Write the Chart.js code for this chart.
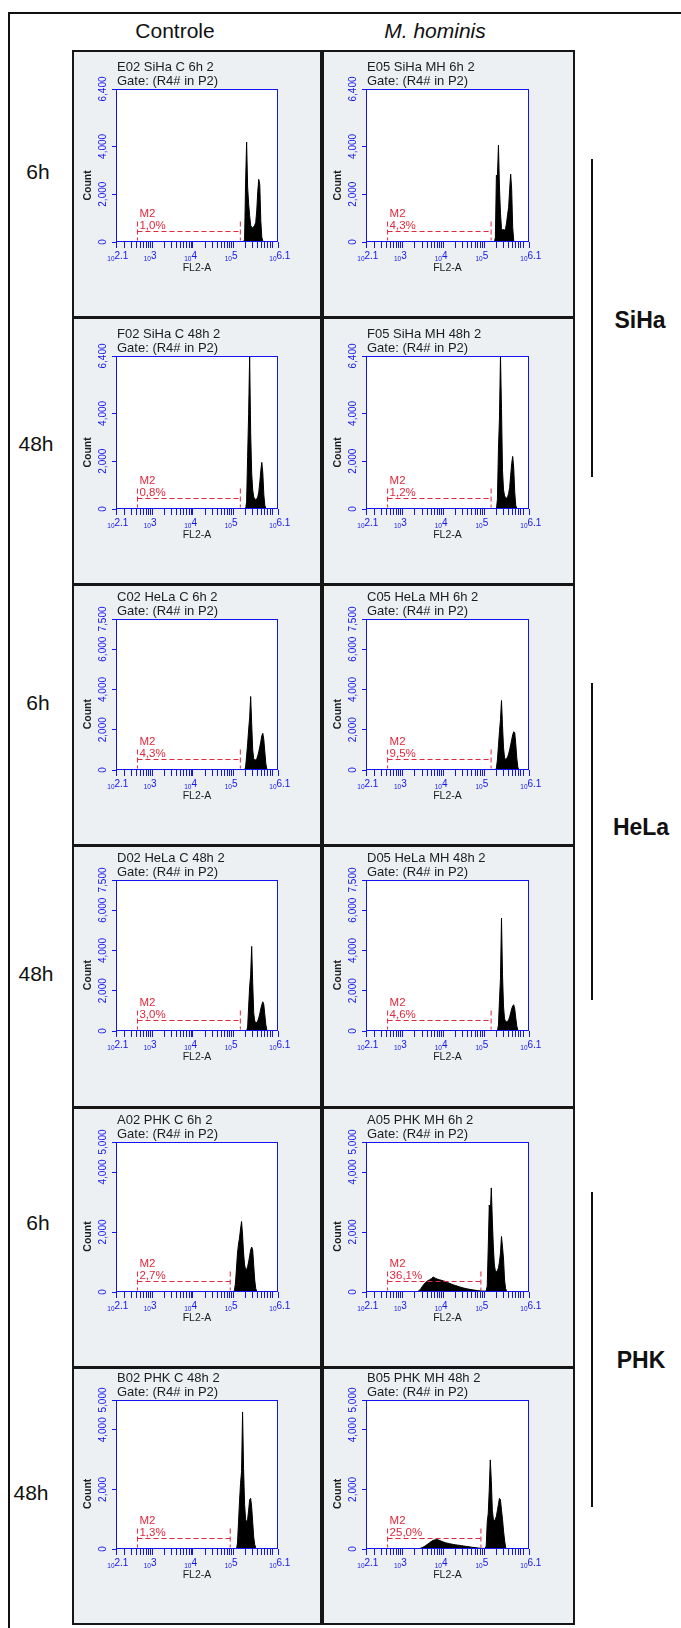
<!DOCTYPE html>
<html>
<head>
<meta charset="utf-8">
<script src="https://cdn.jsdelivr.net/npm/chart.js@4.4.0/dist/chart.umd.min.js"></script>
<style>
  body { margin: 0; background: #fff; }
  #page { position: relative; width: 681px; height: 1628px; overflow: hidden; font-family: "Liberation Sans", Arial, sans-serif; color: #111; }
  .edge { position: absolute; background: #111; }
  .panel { position: absolute; box-sizing: border-box; border: 2px solid #161616; background: #ecf0f3; }
  .cv { position: absolute; }
  .head { position: absolute; top: 30px; font-size: 21px; line-height: 1; transform: translate(-50%, -50%); white-space: nowrap; }
  .rowlab { position: absolute; font-size: 21px; line-height: 1; transform: translate(-50%, -50%); }
  .group { position: absolute; font-size: 23px; font-weight: bold; line-height: 1; transform: translate(-50%, -50%); }
  .bar { position: absolute; left: 591px; width: 2px; background: #111; }
</style>
</head>
<body>
<div id="page">
  <div class="edge" style="left:8px;top:12px;width:2px;height:1616px"></div>
  <div class="edge" style="left:8px;top:12px;width:673px;height:2px"></div>

  <div class="head" style="left:175px">Controle</div>
  <div class="head" style="left:435px;font-style:italic">M. hominis</div>

  <div class="rowlab" style="left:38px;top:171px">6h</div>
  <div class="rowlab" style="left:36px;top:443px">48h</div>
  <div class="rowlab" style="left:38px;top:702px">6h</div>
  <div class="rowlab" style="left:36px;top:973px">48h</div>
  <div class="rowlab" style="left:38px;top:1222px">6h</div>
  <div class="rowlab" style="left:31px;top:1492px">48h</div>

  <div class="bar" style="top:159px;height:318px"></div>
  <div class="bar" style="top:683px;height:317px"></div>
  <div class="bar" style="top:1192px;height:315px"></div>
  <div class="group" style="left:640px;top:320px">SiHa</div>
  <div class="group" style="left:641px;top:827px">HeLa</div>
  <div class="group" style="left:641px;top:1360px">PHK</div>
</div>

<script>
// FL2-A channel (log10 exponent) of each histogram bin
var binExp = [5.000,5.025,5.050,5.075,5.100,5.125,5.150,5.175,5.200,5.225,5.250,5.275,5.300,5.325,5.350,5.375,5.400,5.425,
              5.450,5.475,5.500,5.525,5.550,5.575,5.600,5.625,5.650,5.675,5.700,5.725,5.750,5.775,5.800,5.825,5.850];
var lowExp = [3.30,3.35,3.40,3.45,3.50,3.55,3.60,3.65,3.70,3.75,3.80,3.85,3.90,3.95,4.00,4.05,4.10,4.15,
              4.20,4.25,4.30,4.35,4.40,4.45,4.50,4.55,4.60,4.65,4.70,4.75,4.80,4.85,4.90,4.95,5.00];

// counts per bin
var e02 = [0,0,0,0,0,0,0,0,0,0,0,120,2500,4180,2300,1600,1100,700,620,600,640,700,820,1300,2100,2620,2400,900,200,40,0,0,0,0,0];
var e05 = [0,0,0,0,0,0,0,0,0,0,0,200,2800,2700,4050,2300,1200,560,500,520,490,560,800,1150,1450,2200,2840,2200,600,60,0,0,0,0,0];
var f02 = [0,0,0,0,0,0,0,0,0,0,0,0,0,300,2200,4000,6400,3200,1500,800,500,420,400,420,500,700,1100,1600,1950,1500,600,150,30,0,0];
var f05 = [0,0,0,0,0,0,0,0,0,0,0,0,0,400,2500,3800,6400,4200,1600,800,550,480,460,500,650,900,1400,1900,2200,1700,700,150,30,0,0];
var c02 = [0,0,0,0,0,0,0,0,0,0,0,0,150,700,1300,2000,2600,3650,2300,1000,560,500,500,560,700,900,1150,1400,1700,1820,1500,900,300,50,0];
var c05 = [0,0,0,0,0,0,0,0,0,0,0,0,100,500,1200,1900,2500,3450,2200,1100,600,540,560,650,800,1000,1250,1500,1750,1900,1850,1300,600,150,0];
var d02 = [0,0,0,0,0,0,0,0,0,0,0,0,0,0,200,1200,2200,2800,4200,2400,900,500,420,420,500,650,850,1100,1300,1450,1300,800,300,60,0];
var d05 = [0,0,0,0,0,0,0,0,0,0,0,0,0,0,300,1500,2600,5600,2800,1200,600,480,460,480,550,700,900,1100,1250,1300,1100,650,250,50,0];
var a02 = [0,60,300,800,1300,1600,1800,2100,2350,1900,1300,900,750,750,850,1000,1200,1400,1500,1400,900,400,120,20,0,0,0,0,0,0,0,0,0,0,0];
var a05 = [30,30,40,200,1500,2900,2600,3470,2400,1500,900,700,680,720,800,1000,1300,1850,1500,1100,400,120,20,0,0,0,0,0,0,0,0,0,0,0,0];
var b02 = [0,0,0,0,200,900,1600,2200,2600,4600,2700,1500,1000,900,1000,1300,1650,1700,1400,900,400,150,40,0,0,0,0,0,0,0,0,0,0,0,0];
var b05 = [20,20,100,900,1200,2000,2990,2300,1300,1000,950,1000,1100,1300,1500,1700,1650,1300,1000,600,300,60,0,0,0,0,0,0,0,0,0,0,0,0,0];
var a05Low = [0,0,40,120,220,300,360,400,440,500,460,430,410,390,370,350,320,290,260,235,215,190,170,150,130,115,100,88,76,65,55,45,38,32,30];
var b05Low = [0,0,10,30,60,100,150,200,250,290,310,315,290,260,235,210,195,180,165,150,140,130,122,110,100,90,80,70,58,50,42,34,26,22,20];

// axis ticks
var yTicksSiha = [0, 2000, 4000, 6400];
var yTicksHela = [0, 2000, 4000, 6000, 7500];
var yTicksPhk = [0, 2000, 4000, 5000];
var xMajor = [2.1, 3, 4, 5, 6.1];
var xMajorLabels = ['2.1', '3', '4', '5', '6.1'];

// M2 gate limits (exponents)
var m2Lo = 2.63;
var m2HiCancer = 5.17;
var m2HiPhk = 4.92;

var panels = [
    {title: 'E02 SiHa C 6h 2',   counts: e02, ticks: yTicksSiha, pct: '1,0%',  m2Hi: m2HiCancer},
    {title: 'E05 SiHa MH 6h 2',  counts: e05, ticks: yTicksSiha, pct: '4,3%',  m2Hi: m2HiCancer},
    {title: 'F02 SiHa C 48h 2',  counts: f02, ticks: yTicksSiha, pct: '0,8%',  m2Hi: m2HiCancer},
    {title: 'F05 SiHa MH 48h 2', counts: f05, ticks: yTicksSiha, pct: '1,2%',  m2Hi: m2HiCancer},
    {title: 'C02 HeLa C 6h 2',   counts: c02, ticks: yTicksHela, pct: '4,3%',  m2Hi: m2HiCancer},
    {title: 'C05 HeLa MH 6h 2',  counts: c05, ticks: yTicksHela, pct: '9,5%',  m2Hi: m2HiCancer},
    {title: 'D02 HeLa C 48h 2',  counts: d02, ticks: yTicksHela, pct: '3,0%',  m2Hi: m2HiCancer},
    {title: 'D05 HeLa MH 48h 2', counts: d05, ticks: yTicksHela, pct: '4,6%',  m2Hi: m2HiCancer},
    {title: 'A02 PHK C 6h 2',    counts: a02, ticks: yTicksPhk,  pct: '2,7%',  m2Hi: m2HiPhk},
    {title: 'A05 PHK MH 6h 2',   counts: a05, ticks: yTicksPhk,  pct: '36,1%', m2Hi: m2HiPhk, low: a05Low},
    {title: 'B02 PHK C 48h 2',   counts: b02, ticks: yTicksPhk,  pct: '1,3%',  m2Hi: m2HiPhk},
    {title: 'B05 PHK MH 48h 2',  counts: b05, ticks: yTicksPhk,  pct: '25,0%', m2Hi: m2HiPhk, low: b05Low}
];

var gateText = 'Gate: (R4# in P2)';
var xTitle = 'FL2-A';
var yTitle = 'Count';

// layout of the grid
var colLeft = [72, 322], colW = [250, 253], plotW = [162, 163];
var rowTop = [50, 317, 584, 845, 1107, 1367];
var rowH = [268, 268, 262, 263, 261, 258];
var plotTop = [39, 39, 35, 35, 35, 33];
var plotH = [153, 153, 151, 151, 150, 149];
var plotLeft = 44;

var BLUE = '#1414f0';
var RED = '#e0283c';
var FONT = '"Liberation Sans", Arial, sans-serif';

function toPoints(xs, ys) {
    var pts = [];
    for (var i = 0; i < xs.length; i++) {
        if (ys[i] > 0 || ys[i - 1] > 0 || ys[i + 1] > 0) pts.push({x: xs[i], y: ys[i]});
    }
    return pts;
}

function hist(xs, ys) {
    return {
        data: toPoints(xs, ys),
        borderColor: '#000',
        backgroundColor: '#000',
        borderWidth: 1,
        pointRadius: 0,
        tension: 0,
        fill: 'origin'
    };
}

function decor(p) {
    return {
        id: 'decor',
        beforeDraw: function (chart) {
            var a = chart.chartArea, c = chart.ctx;
            c.save();
            c.fillStyle = '#fff';
            c.fillRect(a.left, a.top, a.right - a.left, a.bottom - a.top);
            c.restore();
        },
        afterDraw: function (chart) {
            var a = chart.chartArea, c = chart.ctx;
            var xs = chart.scales.x, ys = chart.scales.y;
            c.save();

            // M2 marker
            var x1 = xs.getPixelForValue(m2Lo), x2 = xs.getPixelForValue(p.m2Hi), ym = Math.round(a.bottom - 11) + 0.5;
            c.strokeStyle = RED;
            c.lineWidth = 1;
            c.setLineDash([5, 3]);
            c.beginPath();
            c.moveTo(x1, ym); c.lineTo(x2, ym);
            c.moveTo(x1, ym - 10); c.lineTo(x1, ym + 9);
            c.moveTo(x2, ym - 10); c.lineTo(x2, ym + 9);
            c.stroke();
            c.setLineDash([]);
            c.fillStyle = RED;
            c.font = '11.5px ' + FONT;
            c.textAlign = 'left';
            c.textBaseline = 'middle';
            c.fillText('M2', x1 + 2, ym - 18);
            c.fillText(p.pct, x1 + 2, ym - 6);

            // plot frame
            c.strokeStyle = BLUE;
            c.strokeRect(Math.round(a.left) + 0.5, Math.round(a.top) + 0.5,
                Math.round(a.right - a.left) - 1, Math.round(a.bottom - a.top) - 1);

            // titles
            c.fillStyle = '#1c1c1c';
            c.font = '13px ' + FONT;
            c.fillText(p.title, a.left + 1, a.top - 22);
            c.fillText(gateText, a.left + 1, a.top - 8);

            c.font = '10.5px ' + FONT;
            c.textAlign = 'center';
            c.fillText(xTitle, (a.left + a.right) / 2, a.bottom + 26);

            c.save();
            c.translate(a.left - 28, a.top + 0.63 * (a.bottom - a.top));
            c.rotate(-Math.PI / 2);
            c.font = 'bold 10.5px ' + FONT;
            c.fillText(yTitle, 0, 0);
            c.restore();

            // y tick labels, rotated
            c.fillStyle = BLUE;
            c.font = '10px ' + FONT;
            p.ticks.forEach(function (v) {
                c.save();
                c.translate(a.left - 13, ys.getPixelForValue(v));
                c.rotate(-Math.PI / 2);
                c.fillText(v.toLocaleString('en-US'), 0, 0);
                c.restore();
            });

            // x tick labels 10^n
            xMajor.forEach(function (v, k) {
                var x = xs.getPixelForValue(v);
                c.textAlign = 'right';
                c.font = '6.5px ' + FONT;
                c.fillText('10', x - 1.5, a.bottom + 17);
                c.textAlign = 'left';
                c.font = '10px ' + FONT;
                c.fillText(xMajorLabels[k], x - 1.5, a.bottom + 14);
            });
            c.restore();
        }
    };
}

var page = document.getElementById('page');

panels.forEach(function (p, i) {
    var col = i % 2, row = Math.floor(i / 2);
    var L = colLeft[col], T = rowTop[row], W = colW[col], H = rowH[row];

    var box = document.createElement('div');
    box.className = 'panel';
    box.style.left = L + 'px'; box.style.top = T + 'px';
    box.style.width = W + 'px'; box.style.height = H + 'px';
    page.appendChild(box);

    var cv = document.createElement('canvas');
    cv.className = 'cv';
    cv.width = W; cv.height = H;
    cv.style.left = L + 'px'; cv.style.top = T + 'px';
    page.appendChild(cv);

    var datasets = [];
    if (p.low) datasets.push(hist(lowExp, p.low));
    datasets.push(hist(binExp, p.counts));

    new Chart(cv, {
        type: 'line',
        data: {datasets: datasets},
        options: {
            responsive: false,
            animation: false,
            events: [],
            layout: {padding: {left: plotLeft, top: plotTop[row], right: W - plotLeft - plotW[col], bottom: H - plotTop[row] - plotH[row]}},
            plugins: {legend: {display: false}, tooltip: {enabled: false}},
            scales: {
                x: {
                    type: 'linear', min: 2.1, max: 6.1,
                    border: {display: false},
                    grid: {drawOnChartArea: false, drawTicks: true, tickLength: 6, color: BLUE, lineWidth: 1},
                    ticks: {display: false},
                    afterBuildTicks: function (s) {
                        var t = xMajor.map(function (v) { return {value: v}; });
                        for (var d = 2; d <= 6; d++) {
                            for (var k = 2; k <= 9; k++) {
                                var v = d + Math.log10(k);
                                if (v > 2.1 && v < 6.1) t.push({value: v});
                            }
                        }
                        t.sort(function (m, n) { return m.value - n.value; });
                        s.ticks = t;
                    },
                    afterFit: function (s) { s.height = 0; }
                },
                y: {
                    type: 'linear', min: 0, max: p.ticks[p.ticks.length - 1],
                    border: {display: false},
                    grid: {drawOnChartArea: false, drawTicks: true, tickLength: 4, color: BLUE, lineWidth: 1},
                    ticks: {display: false},
                    afterBuildTicks: function (s) {
                        s.ticks = p.ticks.map(function (v) { return {value: v}; });
                    },
                    afterFit: function (s) { s.width = 0; }
                }
            }
        },
        plugins: [decor(p)]
    });
});
</script>
</body>
</html>
